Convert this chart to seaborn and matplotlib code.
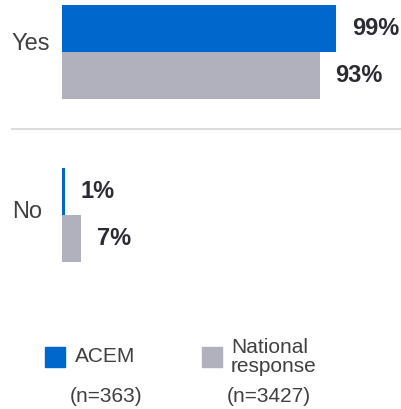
import matplotlib
matplotlib.use('Agg')
import matplotlib.pyplot as plt
import matplotlib.transforms as mtransforms
from matplotlib.patches import Rectangle
import pandas as pd
import seaborn as sns

answers = ['Yes', 'No']
groups = ['ACEM', 'National response']
acem = [99, 1]
national = [93, 7]
group_n = ['(n=363)', '(n=3427)']
colors = ['#0068CC', '#B1B1BD']

df = pd.DataFrame({
    'answer': answers * 2,
    'group': [groups[0]] * 2 + [groups[1]] * 2,
    'pct': acem + national,
})

W, H = 401, 409
fig = plt.figure(figsize=(W / 100, H / 100), dpi=100)
plt.rcParams['font.family'] = ['Liberation Sans', 'DejaVu Sans']

def fx(px):
    return px / W

def fy(py):
    return 1 - py / H

# axes spans x 62..339 px (0..100 %), y 0..300 px
ax = fig.add_axes([fx(62), fy(300), 277 / W, 300 / H])
sns.barplot(data=df, x='pct', y='answer', hue='group', order=answers,
            hue_order=groups, palette=colors, orient='h', width=0.577,
            saturation=1, errorbar=None, linewidth=0, ax=ax)
ax.set_xlim(0, 100)
ax.set_ylim((300 - 52) / 163, -52 / 163)
ax.legend_.remove()
for c in ax.containers:
    ax.bar_label(c, fmt='%d%%', padding=11.5, fontsize=17, fontweight='bold',
                 color='#2B2B33')

for s in ax.spines.values():
    s.set_visible(False)
ax.set_xticks([])
ax.set_yticks([])
ax.set_xlabel('')
ax.set_ylabel('')

# category labels, left aligned at x=12px
lift = [7.5, 2.5]  # px above the category centre
for i, a in enumerate(answers):
    tr = mtransforms.blended_transform_factory(fig.transFigure, ax.transData)
    tr = mtransforms.offset_copy(tr, fig=fig, x=0, y=lift[i] * 0.72, units='points')
    ax.text(fx(12), i, a, transform=tr, fontsize=17, color='#404040',
            ha='left', va='center')

# separator line between Yes and No
ax.axhline((129 - 52) / 163, xmin=(12 - 62) / 277, xmax=(401 - 62) / 277,
           color='#DCDCDC', lw=1.5, clip_on=False)

# legend built by hand
sq_x = [45, 202]
txt_x = [75, 231]
n_x = [106, 269]
for i in range(2):
    fig.patches.append(Rectangle((fx(sq_x[i]), fy(367)), 20 / W, 20 / H,
                                 transform=fig.transFigure, color=colors[i]))
    label = groups[i].replace(' ', '\n')
    fig.text(fx(txt_x[i]), fy(357), label, fontsize=15, color='#404040',
             va='center', ha='left', linespacing=1.0)
    fig.text(fx(n_x[i]), fy(397), group_n[i], fontsize=15, color='#404040',
             va='center', ha='center')

fig.savefig('out.png', dpi=100)
